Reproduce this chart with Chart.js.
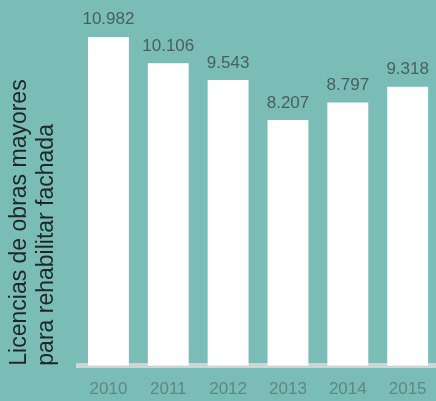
<!DOCTYPE html>
<html>
<head>
<meta charset="utf-8">
<script src="https://cdn.jsdelivr.net/npm/chart.js@4"></script>
<style>
  html, body { margin: 0; padding: 0; overflow: hidden; background: #79bdb6; }
  canvas { display: block; }
</style>
</head>
<body>
<canvas id="licChart" width="440" height="401"></canvas>
<script>
const years = ['2010', '2011', '2012', '2013', '2014', '2015'];
const licencias = [10982, 10106, 9543, 8207, 8797, 9318];
const yTitle = ['Licencias de obras mayores', 'para rehabilitar fachada'];

function fmtNum(n) {
    return String(n).replace(/\B(?=(\d{3})+(?!\d))/g, '.');
}

// draws the value above each bar
const valueLabels = {
    id: 'valueLabels',
    afterDatasetsDraw(chart) {
        const ctx = chart.ctx;
        const meta = chart.getDatasetMeta(0);
        ctx.save();
        ctx.font = '17px "Liberation Sans", Arial, sans-serif';
        ctx.fillStyle = '#4a605e';
        ctx.textAlign = 'center';
        ctx.textBaseline = 'alphabetic';
        meta.data.forEach((bar, i) => {
            ctx.fillText(fmtNum(licencias[i]), bar.x, bar.y - 12.5);
        });
        ctx.restore();
    }
};

const ctx = document.getElementById('licChart').getContext('2d');
new Chart(ctx, {
    type: 'bar',
    data: {
        labels: years,
        datasets: [{
            data: licencias,
            backgroundColor: '#ffffff',
            borderWidth: 0,
            barPercentage: 0.683,
            categoryPercentage: 1
        }]
    },
    options: {
        responsive: false,
        animation: false,
        layout: { padding: { top: 6.5, right: 1.5, bottom: -11.7, left: 0 } },
        plugins: {
            legend: { display: false },
            tooltip: { enabled: false }
        },
        scales: {
            x: {
                grid: { display: false, drawTicks: false },
                border: { display: true, color: '#d2d4d3', width: 5 },
                ticks: {
                    color: '#5e8884',
                    padding: 13.3,
                    font: { family: '"Liberation Sans", Arial, sans-serif', size: 17 }
                }
            },
            y: {
                min: 0,
                max: 12000,
                grid: { display: false, drawTicks: false },
                border: { display: false },
                ticks: { display: false },
                title: {
                    display: true,
                    text: yTitle,
                    align: 'start',
                    color: '#1f2727',
                    padding: { top: 5.7, bottom: 17.6 },
                    font: { family: '"Liberation Sans", Arial, sans-serif', size: 23, lineHeight: 1.2 }
                }
            }
        }
    },
    plugins: [valueLabels]
});
</script>
</body>
</html>
